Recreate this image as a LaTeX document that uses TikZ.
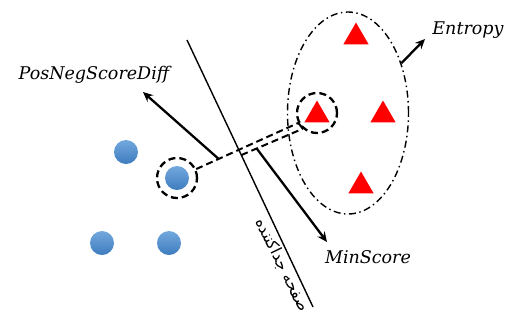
\documentclass[tikz,border=0pt]{standalone}
\usepackage{fontspec}
\usetikzlibrary{arrows.meta,shapes.geometric,calc}
\newfontfamily\labelfont{DejaVu Serif}
\newfontfamily\arabicfont[Script=Arabic]{DejaVu Sans}
\TeXXeTstate=1
\definecolor{tri}{RGB}{255,0,0}
\definecolor{blueTop}{RGB}{115,168,222}
\definecolor{blueBot}{RGB}{62,124,190}
\tikzset{
  negpt/.style={circle, minimum size=24pt, inner sep=0pt, top color=blueTop, bottom color=blueBot, draw=none},
  pospt/.style={regular polygon, regular polygon sides=3, fill=tri, draw=none, minimum size=29pt, inner sep=0pt},
  ring/.style={circle, draw, line width=2.3pt, dash pattern=on 7pt off 4pt, minimum size=40pt, inner sep=0pt},
  thinline/.style={line width=1.4pt},
  dline/.style={line width=2pt, dash pattern=on 7pt off 4pt},
  arr/.style={line width=2.3pt, -{Stealth[length=10pt,width=9pt,inset=3.5pt]}},
  lbl/.style={font=\labelfont\itshape\fontsize{17.5}{19}\selectfont, inner sep=0pt}
}
\begin{document}
\begin{tikzpicture}[x=1pt,y=-1pt]
\useasboundingbox (0,0) rectangle (511,325);
% separator
\coordinate (sepTop) at (187,40);
\coordinate (sepBot) at (313,307);
\draw[thinline] (sepTop) -- (sepBot);
% negatives
\node[negpt] (n1) at (126,152) {};
\node[negpt] (n2) at (177,178) {};
\node[negpt] (n3) at (102,243) {};
\node[negpt] (n4) at (169,243) {};
\node[ring] (rB) at (177,178) {};
% positives
\node[pospt] (p1) at (356,37) {};
\node[pospt] (p2) at (317,115) {};
\node[pospt] (p3) at (383,115) {};
\node[pospt] (p4) at (361,186) {};
\node[ring] (rR) at (317,113) {};
% ellipse
\node[ellipse, draw, line width=1.4pt, dash pattern=on 7pt off 3.5pt on 1.5pt off 3.5pt, minimum width=121pt, minimum height=202pt, inner sep=0pt] (ell) at (348,113) {};
% dashed double line
\coordinate (aStart) at (rB.25);
\coordinate (aEnd) at (rR.208);
\coordinate (bStart) at ($(sepTop)!0.431!(sepBot)$);
\coordinate (bEnd) at (rR.228);
\draw[dline] (aStart) -- (aEnd);
\draw[dline] (bStart) -- (bEnd);
\draw[line width=2pt] (aEnd) -- (bEnd);
% labels
\node[lbl] (pnsd) at (94,75) {PosNegScoreDiff};
\node[lbl] (ms) at (368,257) {MinScore};
\node[lbl] (ent) at (468,30) {Entropy};
\node[font=\arabicfont\fontsize{16}{18}\selectfont, rotate=-64, inner sep=0pt] (sep) at (282,265) {\beginR صفحه جداکننده\endR};
% arrows
\coordinate (pTail) at ($(aStart)!0.22!(aEnd)$);
\coordinate (pHead) at (143,92);
\draw[arr] (pTail) -- (pHead);
\coordinate (mTail) at ($(bStart)!0.25!(bEnd)$);
\coordinate (mHead) at (327,242);
\draw[arr] (mTail) -- (mHead);
\coordinate (eHead) at (425,39);
\draw[arr] (ell.43) -- (eHead);
\end{tikzpicture}
\end{document}
